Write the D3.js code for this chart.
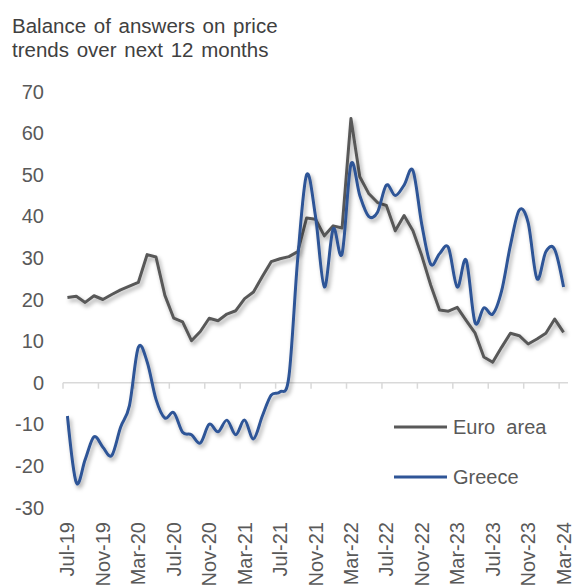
<!DOCTYPE html>
<html>
<head>
<meta charset="utf-8">
<script src="https://cdn.jsdelivr.net/npm/d3@7"></script>
<style>
  body { margin: 0; background: #fff; }
  svg { font-family: "Liberation Sans", Arial, sans-serif; }
</style>
</head>
<body>
<div id="chart"></div>
<script>
var months = ["Jul-19","Aug-19","Sep-19","Oct-19","Nov-19","Dec-19",
  "Jan-20","Feb-20","Mar-20","Apr-20","May-20","Jun-20","Jul-20","Aug-20","Sep-20","Oct-20","Nov-20","Dec-20",
  "Jan-21","Feb-21","Mar-21","Apr-21","May-21","Jun-21","Jul-21","Aug-21","Sep-21","Oct-21","Nov-21","Dec-21",
  "Jan-22","Feb-22","Mar-22","Apr-22","May-22","Jun-22","Jul-22","Aug-22","Sep-22","Oct-22","Nov-22","Dec-22",
  "Jan-23","Feb-23","Mar-23","Apr-23","May-23","Jun-23","Jul-23","Aug-23","Sep-23","Oct-23","Nov-23","Dec-23",
  "Jan-24","Feb-24","Mar-24"];

var euroArea = [20.5, 20.8, 19.3, 20.9, 20.0, 21.2,
  22.3, 23.2, 24.1, 30.8, 30.2, 21.0, 15.5, 14.6, 10.1, 12.3, 15.5, 14.9,
  16.5, 17.3, 20.2, 21.8, 25.5, 29.1, 29.8, 30.3, 31.5, 39.6, 39.3, 35.3,
  37.7, 37.2, 63.5, 49.5, 45.5, 43.3, 42.6, 36.5, 40.2, 36.5, 30.5, 23.5,
  17.5, 17.2, 18.1, 15.0, 12.0, 6.2, 4.9, 8.5, 11.9, 11.3, 9.3, 10.5,
  11.9, 15.3, 12.1];

var greece = [-8.0, -24.0, -18.5, -13.0, -15.5, -17.5,
  -10.7, -5.5, 8.5, 5.0, -4.0, -8.5, -7.2, -11.9, -12.5, -14.5, -10.0, -11.8,
  -9.0, -12.5, -9.0, -13.5, -8.0, -3.0, -2.2, 1.5, 30.0, 50.0, 40.0, 23.0,
  37.0, 31.0, 52.5, 45.0, 40.0, 41.0, 47.5, 45.0, 47.5, 51.0, 38.0, 28.5,
  31.0, 32.5, 23.0, 29.5, 14.5, 18.0, 16.5, 22.0, 33.0, 41.5, 38.5, 25.0,
  31.5, 32.0, 23.0];

var yTicks = [70, 60, 50, 40, 30, 20, 10, 0, -10, -20, -30];
var seriesNames = ["Euro  area", "Greece"];
var colors = ["#595959", "#2f5597"];

var width = 573, height = 587;

var svg = d3.select("#chart").append("svg")
  .attr("width", width)
  .attr("height", height);

// soft drop shadow like the office chart
var f = svg.append("defs").append("filter")
  .attr("id", "shadow")
  .attr("x", "-10%").attr("y", "-10%")
  .attr("width", "130%").attr("height", "130%");
f.append("feDropShadow")
  .attr("dx", 2).attr("dy", 3)
  .attr("stdDeviation", 2)
  .attr("flood-color", "#000")
  .attr("flood-opacity", 0.35);

// title
var title = svg.append("text")
  .attr("x", 12)
  .attr("y", 33)
  .style("font-size", "20.5px")
  .style("word-spacing", "2px")
  .style("fill", "#404040");
title.append("tspan").attr("x", 12).attr("y", 33).text("Balance of answers on price");
title.append("tspan").attr("x", 12).attr("y", 57).text("trends over next 12 months");

var x = d3.scaleBand()
  .domain(months)
  .range([63, 568])
  .padding(0);

var y = d3.scaleLinear()
  .domain([-30, 70])
  .range([507.5, 91.5]);

function cx(d, i) { return x(months[i]) + x.bandwidth() / 2; }

// y labels
svg.append("g").selectAll("text")
  .data(yTicks)
  .enter().append("text")
  .attr("x", 44)
  .attr("y", function(d) { return y(d); })
  .attr("dy", "0.35em")
  .style("text-anchor", "end")
  .style("font-size", "20px")
  .style("fill", "#595959")
  .text(function(d) { return d; });

// zero line with tick marks
var axis = svg.append("g");
axis.append("line")
  .attr("x1", 63).attr("x2", 568)
  .attr("y1", y(0)).attr("y2", y(0))
  .attr("stroke", "#d9d9d9")
  .attr("stroke-width", 1.5);

var tickMonths = months.filter(function(d, i) { return i % 4 === 0; });

axis.selectAll("line.tick")
  .data(tickMonths)
  .enter().append("line")
  .attr("class", "tick")
  .attr("x1", function(d) { return x(d); })
  .attr("x2", function(d) { return x(d); })
  .attr("y1", y(0))
  .attr("y2", y(0) + 6)
  .attr("stroke", "#d9d9d9")
  .attr("stroke-width", 1.5);

// x labels, rotated
svg.append("g").selectAll("text")
  .data(tickMonths)
  .enter().append("text")
  .attr("transform", function(d) {
    return "translate(" + (x(d) + x.bandwidth() / 2) + ",522)rotate(-90)";
  })
  .attr("dy", "0.35em")
  .style("text-anchor", "end")
  .style("font-size", "20px")
  .style("fill", "#595959")
  .text(function(d) { return d; });

// lines
var lineEuro = d3.line()
  .x(cx)
  .y(function(d) { return y(d); });

var lineGreece = d3.line()
  .x(cx)
  .y(function(d) { return y(d); })
  .curve(d3.curveCatmullRom.alpha(0));

svg.append("path")
  .datum(euroArea)
  .attr("d", lineEuro)
  .attr("fill", "none")
  .attr("stroke", colors[0])
  .attr("stroke-width", 3)
  .attr("stroke-linejoin", "round")
  .attr("filter", "url(#shadow)");

svg.append("path")
  .datum(greece)
  .attr("d", lineGreece)
  .attr("fill", "none")
  .attr("stroke", colors[1])
  .attr("stroke-width", 3)
  .attr("stroke-linejoin", "round")
  .attr("filter", "url(#shadow)");

// legend
var legend = svg.append("g").attr("class", "legend");
legend.selectAll("g").data(seriesNames)
  .enter()
  .append("g")
  .each(function(d, i) {
    var g = d3.select(this);
    var ly = 427 + i * 50;
    g.append("line")
      .attr("x1", 394).attr("x2", 447)
      .attr("y1", ly).attr("y2", ly)
      .attr("stroke", colors[i])
      .attr("stroke-width", 3);
    g.append("text")
      .attr("x", 453)
      .attr("y", ly)
      .attr("dy", "0.35em")
      .style("font-size", "20px")
      .style("fill", "#595959")
      .style("white-space", "pre")
      .text(d);
  });
</script>
</body>
</html>
